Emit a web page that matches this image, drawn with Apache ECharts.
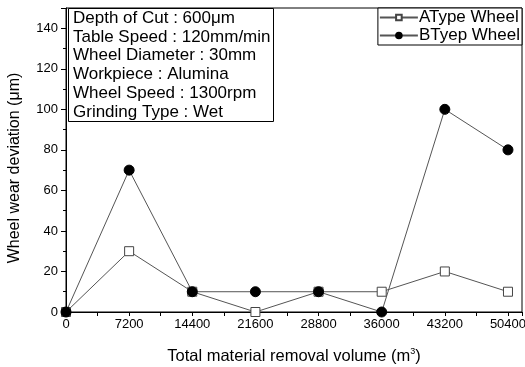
<!DOCTYPE html>
<html>
<head>
<meta charset="utf-8">
<script src="https://cdn.jsdelivr.net/npm/echarts@6/dist/echarts.min.js"></script>
<style>html,body{margin:0;padding:0;background:#fff}#c{width:525px;height:367px}</style>
</head>
<body>
<div id="c"></div>
<script>
const volumes = [0, 7200, 14400, 21600, 28800, 36000, 43200, 50400];
const aTypeWheel = [0, 30, 10, 0, 10, 10, 20, 10];
const bTypeWheel = [0, 70, 10, 10, 10, 0, 100, 80];
const seriesNames = ['AType Wheel', 'BTyep Wheel'];
const infoLines = ['Depth of Cut : 600\u03bcm', 'Table Speed : 120mm/min', 'Wheel Diameter : 30mm', 'Workpiece : Alumina', 'Wheel Speed : 1300rpm', 'Grinding Type : Wet'];

const FONT = 'Liberation Sans, Arial, sans-serif';
const chart = echarts.init(document.getElementById('c'), null, {renderer: 'canvas'});
const pairs = arr => volumes.map((v, i) => [v, arr[i]]);

chart.setOption({
  animation: false,
  backgroundColor: '#fff',
  grid: {left: 66, right: 3, top: 8, bottom: 55, outerBoundsMode: 'none', containLabel: false,
    show: true, borderColor: '#000', borderWidth: 1, backgroundColor: 'transparent'},
  title: {
    text: infoLines.join('\n'),
    left: 68, top: 8,
    padding: [1, 3, 1, 5],
    borderColor: '#000', borderWidth: 1, backgroundColor: '#fff',
    textStyle: {fontFamily: FONT, fontSize: 17, fontWeight: 'normal', color: '#000', lineHeight: 18.7}
  },
  legend: {
    right: 3, top: 8, orient: 'vertical',
    backgroundColor: '#fff', borderColor: '#000', borderWidth: 1,
    padding: [1, 2, 1, 1], itemGap: 1, itemWidth: 38, itemHeight: 7,
    textStyle: {fontFamily: FONT, fontSize: 17, color: '#000', padding: [0, 0, 0, -4]},
    data: seriesNames
  },
  xAxis: [{
    type: 'value', min: 0, max: 52000, interval: 3600,
    name: 'Total material removal volume (m{sup|3})',
    nameLocation: 'middle', nameGap: 35,
    nameTextStyle: {fontFamily: FONT, fontSize: 16.5, color: '#000', rich: {sup: {fontSize: 9, verticalAlign: 'top', padding: [0, 0, 9, 0], fontFamily: FONT, color: '#000'}}},
    axisLine: {show: true, lineStyle: {color: '#000', width: 1}},
    axisTick: {show: true, length: 4, lineStyle: {color: '#000'}},
    axisLabel: {fontFamily: FONT, fontSize: 13, color: '#000', margin: 6,
      formatter: v => (v % 7200 === 0 ? String(v) : '')},
    splitLine: {show: false}
  }],
  yAxis: [{
    type: 'value', min: 0, max: 150, interval: 10,
    name: 'Wheel wear deviation (\u03bcm)',
    nameLocation: 'middle', nameGap: 43,
    nameTextStyle: {fontFamily: FONT, fontSize: 16, color: '#000', padding: [0, 16, 0, 0]},
    axisLine: {show: true, lineStyle: {color: '#000', width: 1}},
    axisTick: {show: true, length: 3, lineStyle: {color: '#000'}},
    axisLabel: {fontFamily: FONT, fontSize: 13, color: '#000', margin: 8,
      formatter: v => (v % 20 === 0 && v <= 140 ? String(v) : '')},
    splitLine: {show: false}
  }, {
    type: 'value', min: 0, max: 150, interval: 20, position: 'left',
    axisLine: {show: false}, axisTick: {show: true, length: 5, lineStyle: {color: '#000'}},
    axisLabel: {show: false}, splitLine: {show: false}
  }],
  series: [{
    name: seriesNames[0], type: 'line', data: pairs(aTypeWheel),
    symbol: 'rect', symbolSize: 9, clip: false,
    lineStyle: {color: '#555', width: 1},
    itemStyle: {color: '#fff', borderColor: '#444', borderWidth: 1}
  }, {
    name: seriesNames[1], type: 'line', data: pairs(bTypeWheel),
    symbol: 'circle', symbolSize: 10, clip: false,
    lineStyle: {color: '#555', width: 1},
    itemStyle: {color: '#000', borderColor: '#000', borderWidth: 1}
  }]
});
</script>
</body>
</html>
